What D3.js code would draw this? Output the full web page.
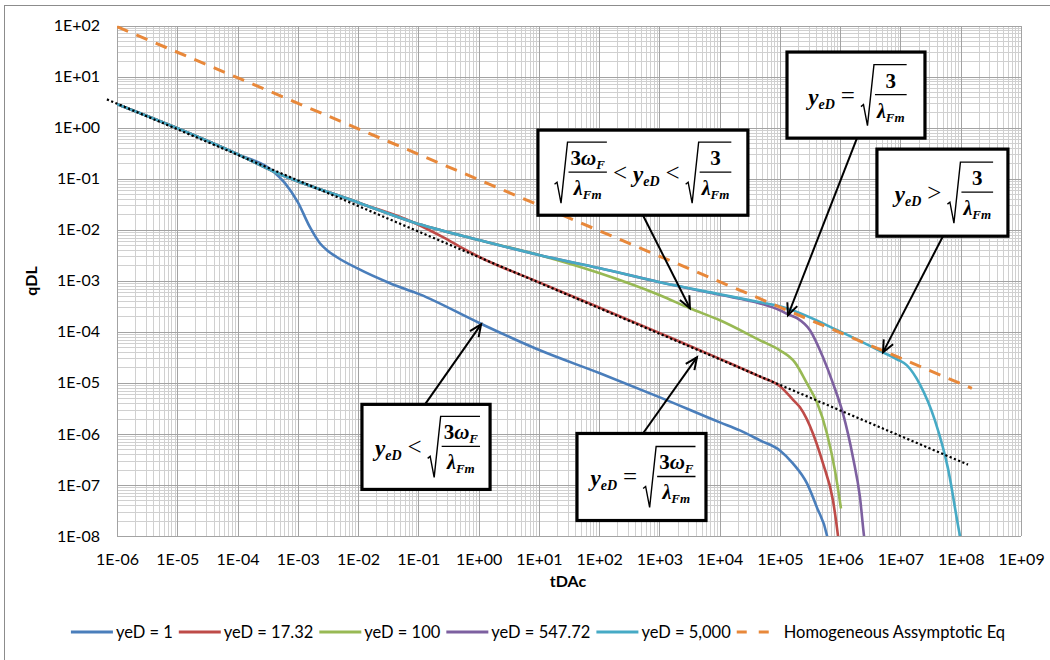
<!DOCTYPE html>
<html><head><meta charset="utf-8">
<script src="https://cdn.jsdelivr.net/npm/d3@7"></script>
<style>body{margin:0;background:#fff}</style>
</head><body>
<svg id="chart" width="1050" height="660"></svg>
<script>
// ---------------- DATA ----------------
const seriesNames = ["yeD = 1", "yeD = 17.32", "yeD = 100", "yeD = 547.72", "yeD = 5,000"];
const homogName = "Homogeneous Assymptotic Eq";

const tYeD1 = [1e-6, 1e-5, 1e-4, 3.87e-4, 6.12e-4, 1.0e-3, 1.59e-3, 2.33e-3, 3.05e-3, 4.47e-3, 9.6e-3, 0.0339, 0.106, 1.05, 10.4, 103, 1020, 1.01e4, 2.17e4, 4.67e4, 1e5, 1.64e5, 2.81e5, 4.11e5, 6.03e5, 6.4e5];
const qYeD1 = [2.89, 0.977, 0.302, 0.14, 0.0817, 0.0346, 0.0112, 5.43e-3, 3.96e-3, 2.89e-3, 1.76e-3, 8.93e-4, 5.4e-4, 1.47e-4, 4.34e-5, 1.54e-5, 5.2e-6, 1.68e-6, 1.17e-6, 7.46e-7, 4.74e-7, 2.64e-7, 1.07e-7, 3.62e-8, 1.02e-8, 7e-9];

const tYeD17 = [1e-6, 1e-5, 1e-4, 3.87e-4, 1.08e-2, 0.0815, 0.256, 0.551, 1.05, 10.4, 103, 1020, 1.01e4, 4.67e4, 1e5, 1.64e5, 2.15e5, 3.53e5, 5.18e5, 7.59e5, 9.18e5, 9.6e5];
const qYeD17 = [2.89, 0.977, 0.302, 0.14, 0.0331, 0.014, 7.13e-3, 4.3e-3, 2.89e-3, 9.2e-4, 2.95e-4, 9.4e-5, 2.95e-5, 1.32e-5, 8.6e-6, 4.7e-6, 3.31e-6, 1.02e-6, 2.64e-7, 4.97e-8, 1.02e-8, 6.5e-9];

const tYeD100 = [1e-6, 1e-5, 1e-4, 3.87e-4, 1.08e-2, 0.0815, 1.05, 10.4, 103, 1020, 3210, 1.01e4, 4.67e4, 1e5, 1.77e5, 2.81e5, 4.11e5, 6.03e5, 8.19e5, 1.03e6];
const qYeD100 = [2.89, 0.977, 0.302, 0.14, 0.0331, 0.014, 6.22e-3, 3.16e-3, 1.40e-3, 5.2e-4, 2.89e-4, 1.68e-4, 6.81e-5, 4.34e-5, 2.52e-5, 9.77e-6, 4.15e-6, 1.02e-6, 1.92e-7, 3.46e-8];

const tYeD547 = [1e-6, 1e-5, 1e-4, 3.87e-4, 1.08e-2, 0.0815, 1.05, 10.4, 103, 1020, 1.01e4, 4.67e4, 1e5, 1.36e5, 1.92e5, 3.15e5, 5.18e5, 7.59e5, 1.11e6, 1.63e6, 2.13e6, 2.48e6, 2.6e6];
const qYeD547 = [2.89, 0.977, 0.302, 0.14, 0.0331, 0.014, 6.22e-3, 3.16e-3, 1.76e-3, 9.35e-4, 5.3e-4, 3.6e-4, 2.64e-4, 2.2e-4, 1.85e-4, 1.07e-4, 3.16e-5, 9.77e-6, 2.52e-6, 3.46e-7, 5.69e-8, 1.02e-8, 6.5e-9];

const tYeD5000 = [1e-6, 1e-5, 1e-4, 3.87e-4, 1.08e-2, 0.0815, 1.05, 10.4, 103, 1020, 1.01e4, 4.67e4, 1e5, 9.9e5, 5.13e6, 8.75e6, 1.28e7, 2.1e7, 3.73e7, 6.14e7, 9.7e7, 1.05e8];
const qYeD5000 = [2.89, 0.977, 0.302, 0.14, 0.0331, 0.014, 6.22e-3, 3.16e-3, 1.76e-3, 9.35e-4, 5.43e-4, 3.79e-4, 3.16e-4, 1.02e-4, 3.96e-5, 2.9e-5, 2.2e-5, 9.35e-6, 1.84e-6, 2.11e-7, 1.02e-8, 6.5e-9];

const tHomog = [1e-6, 1.53e8];
const qHomog = [94.7, 7.8e-6];

const tEarly = [6.8e-7, 1.32e8];
const qEarly = [3.57, 2.5e-7];

const xTickValues = [1e-6,1e-5,1e-4,1e-3,1e-2,1e-1,1e0,1e1,1e2,1e3,1e4,1e5,1e6,1e7,1e8,1e9];
const xTickLabels = ["1E-06","1E-05","1E-04","1E-03","1E-02","1E-01","1E+00","1E+01","1E+02","1E+03","1E+04","1E+05","1E+06","1E+07","1E+08","1E+09"];
const yTickValues = [1e-8,1e-7,1e-6,1e-5,1e-4,1e-3,1e-2,1e-1,1e0,1e1,1e2];
const yTickLabels = ["1E-08","1E-07","1E-06","1E-05","1E-04","1E-03","1E-02","1E-01","1E+00","1E+01","1E+02"];

// Annotations: box corners [tLeft, qTop, tRight, qBottom], arrow from/to in data coords
const annBoxes = [
  [9.66, 0.893, 2.94e4, 0.0192],
  [1.31e5, 30.2, 2.55e7, 0.622],
  [4.07e6, 0.379, 6.07e8, 7.46e-3],
  [0.0116, 3.79e-6, 1.55, 8.17e-8],
  [42.9, 1.02e-6, 5929, 2.01e-8]
];
const annArrowFrom = [[533, 0.0192], [1.90e6, 0.622], [5.07e7, 7.46e-3], [0.129, 3.79e-6], [533, 1.02e-6]];
const annArrowTo = [[3214, 2.89e-4], [1.36e5, 2.11e-4], [5.13e6, 3.96e-5], [1.10, 1.40e-4], [4199, 3.16e-5]];
const annFormulas = [
  [{sqrt:"3w"}, {op:"<"}, {v:1}, {op:"<"}, {sqrt:"3"}],
  [{v:1}, {op:"="}, {sqrt:"3"}],
  [{v:1}, {op:">"}, {sqrt:"3"}],
  [{v:1}, {op:"<"}, {sqrt:"3w"}],
  [{v:1}, {op:"="}, {sqrt:"3w"}]
];

// ---------------- STYLE ----------------
const colors = ["#4A7EBB", "#BE4B48", "#98B954", "#7D60A0", "#46AAC5"];
const homogColor = "#E8883A";
const W = 1050, H = 660;
const plot = {left: 117, right: 1021, top: 25.5, bottom: 536};
const tickFont = "Lato, 'Liberation Sans', Arial, sans-serif";
const mathFont = "'Liberation Serif', 'DejaVu Serif', serif";

const svg = d3.select("#chart");
svg.append("rect").attr("x", 0).attr("y", 0).attr("width", W).attr("height", H).attr("fill", "#fff");
svg.append("rect").attr("x", 4.5).attr("y", 5.5).attr("width", W + 20).attr("height", H + 20)
  .attr("fill", "none").attr("stroke", "#8c8c8c").attr("stroke-width", 1);

const x = d3.scaleLog().domain([1e-6, 1e9]).range([plot.left, plot.right]);
const y = d3.scaleLog().domain([1e-8, 1e2]).range([plot.bottom, plot.top]);

// minor grid values (2..9 within each decade)
const xMinor = [], yMinor = [];
for (let k = -6; k < 9; k++) for (let m = 2; m <= 9; m++) xMinor.push(m * Math.pow(10, k));
for (let k = -8; k < 2; k++) for (let m = 2; m <= 9; m++) yMinor.push(m * Math.pow(10, k));

const pw = plot.right - plot.left, ph = plot.bottom - plot.top;
function gridAxis(axis, vals, size, color, tr) {
  const g = svg.append("g").attr("transform", tr)
    .call(axis.tickValues(vals).tickSize(size).tickFormat(""));
  g.select(".domain").remove();
  g.selectAll(".tick line").attr("stroke", color).attr("stroke-width", 1).attr("shape-rendering", "crispEdges");
}
gridAxis(d3.axisBottom(x), xMinor, -ph, "#d0d0d0", `translate(0,${plot.bottom})`);
gridAxis(d3.axisLeft(y), yMinor, -pw, "#d0d0d0", `translate(${plot.left},0)`);
gridAxis(d3.axisBottom(x), xTickValues, -ph, "#a3a3a3", `translate(0,${plot.bottom})`);
gridAxis(d3.axisLeft(y), yTickValues, -pw, "#a3a3a3", `translate(${plot.left},0)`);

// tick labels via axes
const xa = svg.append("g").attr("transform", `translate(0,${plot.bottom})`)
  .call(d3.axisBottom(x).tickValues(xTickValues).tickSize(0).tickPadding(18)
    .tickFormat((d, i) => xTickLabels[i]));
xa.select(".domain").remove();
xa.selectAll("text").attr("font-family", tickFont).attr("font-size", 16).attr("fill", "#000");
const ya = svg.append("g").attr("transform", `translate(${plot.left},0)`)
  .call(d3.axisLeft(y).tickValues(yTickValues).tickSize(0).tickPadding(17)
    .tickFormat((d, i) => yTickLabels[i]));
ya.select(".domain").remove();
ya.selectAll("text").attr("font-family", tickFont).attr("font-size", 16).attr("fill", "#000");

// axis lines
svg.append("line").attr("x1", plot.left).attr("x2", plot.right).attr("y1", plot.bottom).attr("y2", plot.bottom)
  .attr("stroke", "#a3a3a3").attr("shape-rendering", "crispEdges");
svg.append("line").attr("x1", plot.left).attr("x2", plot.left).attr("y1", plot.top).attr("y2", plot.bottom)
  .attr("stroke", "#a3a3a3").attr("shape-rendering", "crispEdges");

// axis titles
svg.append("text").attr("x", 568).attr("y", 581).attr("text-anchor", "middle").attr("dy", "0.35em")
  .attr("font-family", tickFont).attr("font-size", 16).attr("font-weight", "bold").text("tDAc");
svg.append("text").attr("transform", "translate(31,281) rotate(-90)").attr("text-anchor", "middle").attr("dy", "0.35em")
  .attr("font-family", tickFont).attr("font-size", 16).attr("font-weight", "bold").text("qDL");

// clip
svg.append("clipPath").attr("id", "clip").append("rect")
  .attr("x", plot.left).attr("y", plot.top).attr("width", pw).attr("height", ph);

const line = d3.line().x(d => x(d[0])).y(d => y(d[1])).curve(d3.curveMonotoneX);
const seriesT = [tYeD1, tYeD17, tYeD100, tYeD547, tYeD5000];
const seriesQ = [qYeD1, qYeD17, qYeD100, qYeD547, qYeD5000];
const curves = svg.append("g").attr("clip-path", "url(#clip)");
seriesT.forEach((ts, i) => {
  const pts = ts.map((t, j) => [t, seriesQ[i][j]]);
  curves.append("path").attr("d", line(pts)).attr("fill", "none")
    .attr("stroke", colors[i]).attr("stroke-width", 2.6).attr("stroke-linejoin", "round");
});
curves.append("path").attr("d", line(tHomog.map((t, j) => [t, qHomog[j]])))
  .attr("fill", "none").attr("stroke", homogColor).attr("stroke-width", 3)
  .attr("stroke-dasharray", "12,9");
svg.append("path").attr("d", d3.line().x(d => x(d[0])).y(d => y(d[1]))(tEarly.map((t, j) => [t, qEarly[j]])))
  .attr("fill", "none").attr("stroke", "#000").attr("stroke-width", 2.2)
  .attr("stroke-dasharray", "2.2,2.4");

// ---------------- ANNOTATIONS ----------------
const ann = svg.append("g");
function tx(g, xx, yy, parts) {
  const t = g.append("text").attr("x", xx).attr("y", yy).attr("font-family", mathFont);
  parts.forEach(p => {
    const s = t.append("tspan").text(p.s).attr("font-size", p.size)
      .attr("font-weight", p.w || "bold").attr("font-style", p.it ? "italic" : "normal");
    if (p.dy) s.attr("dy", p.dy);
  });
  return t;
}
function drawFormula(g, items) {
  let cx = 0;
  items.forEach(it => {
    if (it.v) {
      const t = tx(g, cx, 0, [{s: "y", size: 23, it: true}, {s: "eD", size: 14, it: true, dy: 4}]);
      cx += t.node().getComputedTextLength();
    } else if (it.op) {
      cx += 6;
      const t = tx(g, cx, -1, [{s: it.op, size: 25, w: "normal"}]);
      cx += t.node().getComputedTextLength() + 6;
    } else if (it.sqrt) {
      const numParts = it.sqrt === "3w"
        ? [{s: "3", size: 21}, {s: "ω", size: 21, it: true}, {s: "F", size: 13, it: true, dy: 4}]
        : [{s: "3", size: 21}];
      const num = tx(g, 0, -17, numParts);
      const den = tx(g, 0, 13, [{s: "λ", size: 20, it: true}, {s: "Fm", size: 13, it: true, dy: 4}]);
      const nw = num.node().getComputedTextLength(), dw = den.node().getComputedTextLength();
      const w = Math.max(nw, dw) + 4;
      const x0 = cx + 14;
      num.attr("x", x0 + (w - nw) / 2);
      den.attr("x", x0 + (w - dw) / 2);
      g.append("line").attr("x1", x0).attr("x2", x0 + w).attr("y1", -10).attr("y2", -10)
        .attr("stroke", "#000").attr("stroke-width", 1.3);
      g.append("path").attr("d", `M${cx},2 L${cx + 2.5},0 L${cx + 6.5},21 L${cx + 13},-40 H${x0 + w}`)
        .attr("fill", "none").attr("stroke", "#000").attr("stroke-width", 1.4).attr("stroke-linejoin", "miter");
      cx = x0 + w;
    }
  });
}
annBoxes.forEach((b, i) => {
  const x1 = x(b[0]), y1 = y(b[1]), x2 = x(b[2]), y2 = y(b[3]);
  const fx = x(annArrowFrom[i][0]), fy = y(annArrowFrom[i][1]);
  const px = x(annArrowTo[i][0]), py = y(annArrowTo[i][1]);
  ann.append("line").attr("x1", fx).attr("y1", fy).attr("x2", px).attr("y2", py)
    .attr("stroke", "#000").attr("stroke-width", 2);
  const ang = Math.atan2(fy - py, fx - px), L = 13, a = 0.42;
  ann.append("path").attr("d",
    `M${px + L * Math.cos(ang + a)},${py + L * Math.sin(ang + a)} L${px},${py} L${px + L * Math.cos(ang - a)},${py + L * Math.sin(ang - a)}`)
    .attr("fill", "none").attr("stroke", "#000").attr("stroke-width", 2);
  ann.append("rect").attr("x", x1).attr("y", y1).attr("width", x2 - x1).attr("height", y2 - y1)
    .attr("fill", "#fff").attr("stroke", "#000").attr("stroke-width", 3.2);
  const fg = ann.append("g");
  drawFormula(fg, annFormulas[i]);
  const bb = fg.node().getBBox();
  fg.attr("transform", `translate(${(x1 + x2) / 2 - (bb.x + bb.width / 2)},${(y1 + y2) / 2 - (bb.y + bb.height / 2)})`);
});

// ---------------- LEGEND ----------------
const lg = svg.append("g");
let lx = 0;
const legendEntries = seriesNames.map((n, i) => ({name: n, color: colors[i], dash: null}))
  .concat([{name: homogName, color: homogColor, dash: "10,12"}]);
legendEntries.forEach(e => {
  const it = lg.append("g").attr("transform", `translate(${lx},0)`);
  if (e.dash) {
    it.append("line").attr("x1", 0).attr("x2", 32).attr("y1", 0).attr("y2", 0)
      .attr("stroke", e.color).attr("stroke-width", 3).attr("stroke-dasharray", e.dash);
  } else {
    it.append("line").attr("x1", 0).attr("x2", 42).attr("y1", 0).attr("y2", 0)
      .attr("stroke", e.color).attr("stroke-width", 3);
  }
  const off = e.dash ? 47 : 45;
  const t = it.append("text").attr("x", off).attr("y", 0).attr("dy", "0.35em")
    .attr("font-family", tickFont).attr("font-size", 16.5).text(e.name);
  lx += off + t.node().getComputedTextLength() + 6;
});
lg.attr("transform", `translate(${538 - (lx - 6) / 2},632)`);
</script>
</body></html>
